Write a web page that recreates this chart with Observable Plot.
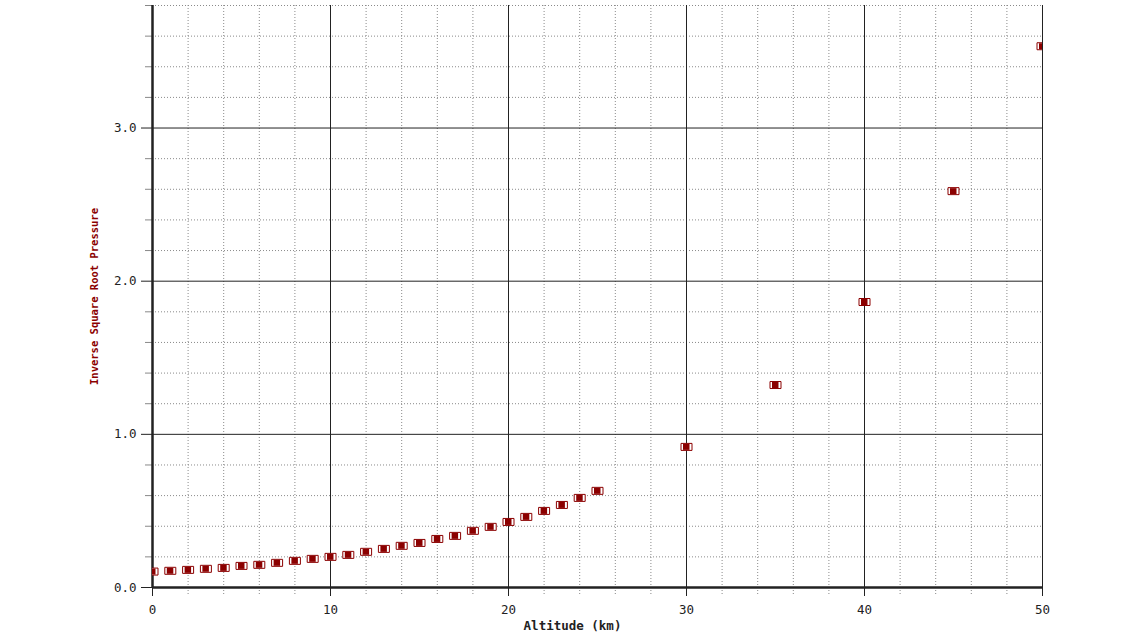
<!DOCTYPE html>
<html>
<head>
<meta charset="utf-8">
<script src="https://cdn.jsdelivr.net/npm/d3@7"></script>
<script src="https://cdn.jsdelivr.net/npm/@observablehq/plot@0.6"></script>
<style>
  html, body { margin: 0; padding: 0; background: #fff; }
</style>
</head>
<body>
<div id="chart"></div>
<script>
const altitude = [0,1,2,3,4,5,6,7,8,9,10,11,12,13,14,15,16,17,18,19,20,21,22,23,24,25,30,35,40,45,50];
const invSqrtPressure = [0.104,0.109,0.115,0.122,0.128,0.141,0.148,0.161,0.174,0.187,0.200,0.213,0.233,0.252,0.272,0.291,0.317,0.337,0.370,0.396,0.428,0.461,0.500,0.539,0.585,0.631,0.918,1.322,1.864,2.588,3.534];
const xMajor = [0,10,20,30,40,50];
const xMinor = [2,4,6,8,12,14,16,18,22,24,26,28,32,34,36,38,42,44,46,48];
const yMajor = [0,1,2,3];
const yMinor = [0.2,0.4,0.6,0.8,1.2,1.4,1.6,1.8,2.2,2.4,2.6,2.8,3.2,3.4,3.6,3.8];
const xTitle = "Altitude (km)";
const yTitle = "Inverse Square Root Pressure";

const data = altitude.map((a, i) => ({altitude: a, value: invSqrtPressure[i]}));

const outerRect = {draw(ctx) { ctx.rect(-5.5, -3.5, 11, 7); }};
const innerRect = {draw(ctx) { ctx.rect(-3.5, -3, 6.5, 6); }};

const red = "#8b0000";
const ink = "#222";
const font = "'DejaVu Sans Mono', monospace";

const chart = Plot.plot({
  width: 1136,
  height: 639,
  marginLeft: 152,
  marginRight: 94,
  marginTop: 5,
  marginBottom: 52,
  style: {background: "#fff", fontFamily: font, fontSize: "12px", color: ink},
  x: {domain: [0, 50], label: null},
  y: {domain: [0, 3.8], label: null},
  marks: [
    Plot.ruleX(xMinor, {stroke: "#8a8a8a", strokeDasharray: "1,2"}),
    Plot.ruleY(yMinor, {stroke: "#8a8a8a", strokeDasharray: "1,2"}),
    Plot.ruleX(xMajor, {stroke: ink, strokeWidth: 1}),
    Plot.ruleY(yMajor, {stroke: ink, strokeWidth: 1}),
    Plot.axisY(yMinor, {tickSize: 7, stroke: "#888", tickFormat: () => "", label: null}),
    Plot.axisY(yMajor, {tickSize: 11, tickPadding: 5, tickFormat: d3.format(".1f"), label: null, stroke: ink, fill: ink, fontSize: 12.5}),
    Plot.axisX(xMinor, {tickSize: 9, stroke: "#888", strokeDasharray: "1,2", tickFormat: () => "", label: null}),
    Plot.axisX(xMajor, {tickSize: 9, tickPadding: 9, tickFormat: d3.format("d"), label: null, stroke: ink, fill: ink, fontSize: 12.5}),
    Plot.ruleX([0], {stroke: ink, strokeWidth: 2.5}),
    Plot.ruleY([0], {stroke: ink, strokeWidth: 2.5}),
    Plot.dot(data, {x: "altitude", y: "value", symbol: outerRect, fill: "#fff", stroke: red, strokeWidth: 1, clip: true}),
    Plot.dot(data, {x: "altitude", y: "value", symbol: innerRect, fill: red, stroke: "none", clip: true}),
    Plot.text([xTitle], {text: d => d, frameAnchor: "bottom", dx: -25, dy: 42, fontWeight: "bold", fontSize: 12.5, fill: ink}),
    Plot.text([yTitle], {text: d => d, frameAnchor: "left", textAnchor: "middle", dx: -58, rotate: -90, fontWeight: "bold", fontSize: 10.5, fill: red})
  ]
});
document.getElementById("chart").appendChild(chart);
</script>
</body>
</html>
